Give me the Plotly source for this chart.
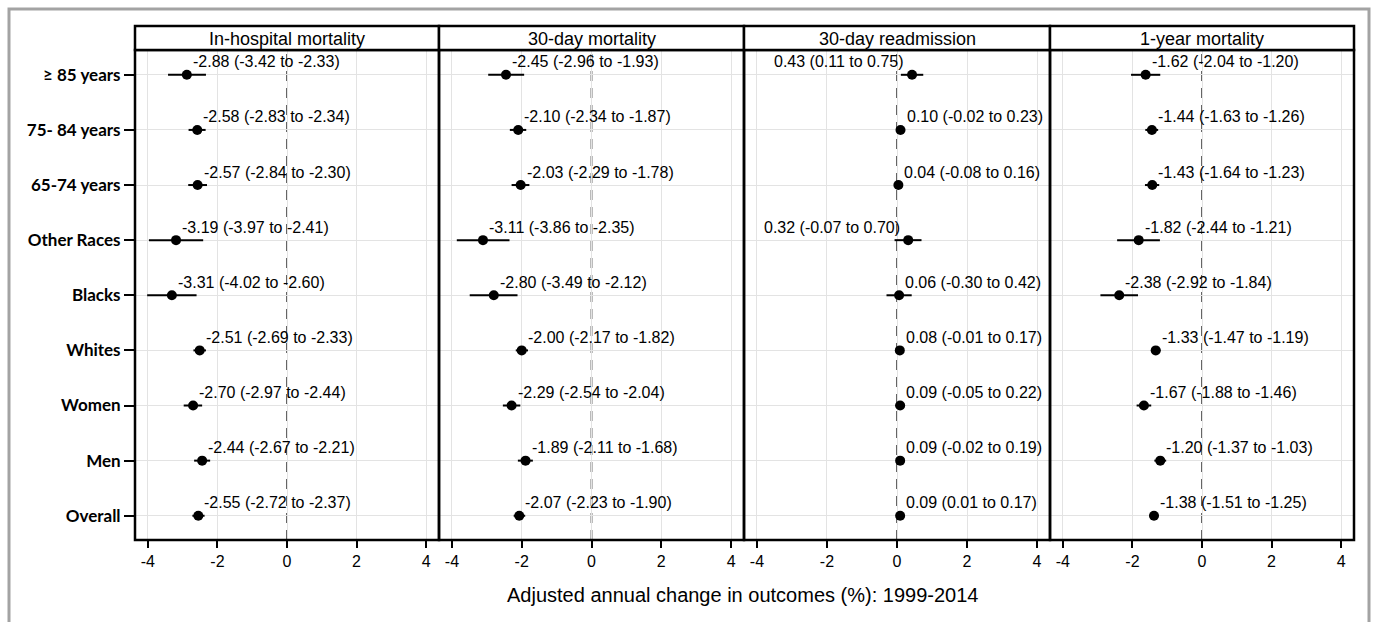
import plotly.graph_objects as go

W, H = 1373, 622

categories = ["Overall", "Men", "Women", "Whites", "Blacks", "Other Races",
              "65-74 years", "75- 84 years", "\u2265 85 years"]

panels = ["In-hospital mortality", "30-day mortality", "30-day readmission", "1-year mortality"]

# values listed bottom (Overall) to top (>= 85 years)
inhosp_est = [-2.55, -2.44, -2.70, -2.51, -3.31, -3.19, -2.57, -2.58, -2.88]
inhosp_lo = [-2.72, -2.67, -2.97, -2.69, -4.02, -3.97, -2.84, -2.83, -3.42]
inhosp_hi = [-2.37, -2.21, -2.44, -2.33, -2.60, -2.41, -2.30, -2.34, -2.33]

d30_est = [-2.07, -1.89, -2.29, -2.00, -2.80, -3.11, -2.03, -2.10, -2.45]
d30_lo = [-2.23, -2.11, -2.54, -2.17, -3.49, -3.86, -2.29, -2.34, -2.96]
d30_hi = [-1.90, -1.68, -2.04, -1.82, -2.12, -2.35, -1.78, -1.87, -1.93]

readm_est = [0.09, 0.09, 0.09, 0.08, 0.06, 0.32, 0.04, 0.10, 0.43]
readm_lo = [0.01, -0.02, -0.05, -0.01, -0.30, -0.07, -0.08, -0.02, 0.11]
readm_hi = [0.17, 0.19, 0.22, 0.17, 0.42, 0.70, 0.16, 0.23, 0.75]

y1_est = [-1.38, -1.20, -1.67, -1.33, -2.38, -1.82, -1.43, -1.44, -1.62]
y1_lo = [-1.51, -1.37, -1.88, -1.47, -2.92, -2.44, -1.64, -1.63, -2.04]
y1_hi = [-1.25, -1.03, -1.46, -1.19, -1.84, -1.21, -1.23, -1.26, -1.20]

# labels placed to the left of the point (panel index, category)
left_labels = {(2, "\u2265 85 years"), (2, "Other Races")}

x_ticks = [-4, -2, 0, 2, 4]
x_title = "Adjusted annual change in outcomes (%): 1999-2014"

series = [(inhosp_est, inhosp_lo, inhosp_hi), (d30_est, d30_lo, d30_hi),
          (readm_est, readm_lo, readm_hi), (y1_est, y1_lo, y1_hi)]

px_edges = [135, 439, 744, 1050, 1354]
plot_top, plot_bot = 50, 540
head_top = 26
FONT = "Liberation Sans, Arial, sans-serif"

def fx(px):
    return px / W

def fy(py):
    return 1 - py / H

fig = go.Figure()
shapes = []
annotations = []
layout = {}

for i, (est, lo, hi) in enumerate(series):
    n = i + 1
    xa = "x" if n == 1 else f"x{n}"
    ya = "y" if n == 1 else f"y{n}"
    xkey = "xaxis" if n == 1 else f"xaxis{n}"
    ykey = "yaxis" if n == 1 else f"yaxis{n}"
    fig.add_trace(go.Scatter(
        x=est, y=categories, xaxis=xa, yaxis=ya, mode="markers",
        marker=dict(color="black", size=10),
        error_x=dict(type="data", symmetric=False,
                     array=[h - e for h, e in zip(hi, est)],
                     arrayminus=[e - l for e, l in zip(est, lo)],
                     color="black", thickness=2, width=0),
        showlegend=False, cliponaxis=False,
    ))
    layout[xkey] = dict(
        domain=[fx(px_edges[i]), fx(px_edges[i + 1])], range=[-4.37, 4.37],
        anchor=ya, tickvals=x_ticks, ticktext=[str(t) for t in x_ticks],
        showgrid=True, gridcolor="#e3e3e3", gridwidth=1, zeroline=False,
        showline=False,
        ticks="outside", ticklen=7, tickwidth=1.5, tickcolor="black",
        tickfont=dict(family=FONT, size=16, color="black"),
        fixedrange=True,
    )
    layout[ykey] = dict(
        domain=[fy(plot_bot), fy(plot_top)], anchor=xa,
        type="category", categoryorder="array", categoryarray=categories,
        range=[-0.44, 8.45], showgrid=True, gridcolor="#e3e3e3", gridwidth=1,
        zeroline=False, showline=False,
        showticklabels=(n == 1), ticks="outside" if n == 1 else "",
        ticklen=10, tickwidth=1.5, tickcolor="black",
        tickfont=dict(family="Lato, Open Sans, sans-serif", size=17, color="black",
                      weight="bold"),
        fixedrange=True,
    )
    # dashed zero reference line
    shapes.append(dict(type="line", xref=xa, yref="paper", x0=0, x1=0,
                       y0=fy(plot_bot), y1=fy(plot_top),
                       line=dict(color="#555555", width=1.8, dash="10px,7px"),
                       layer="below"))
    # panel border
    shapes.append(dict(type="rect", xref="paper", yref="paper",
                       x0=fx(px_edges[i]), x1=fx(px_edges[i + 1]),
                       y0=fy(plot_bot), y1=fy(plot_top),
                       line=dict(color="black", width=2.5)))
    # header box
    shapes.append(dict(type="rect", xref="paper", yref="paper",
                       x0=fx(px_edges[i]), x1=fx(px_edges[i + 1]),
                       y0=fy(plot_top), y1=fy(head_top),
                       line=dict(color="black", width=2.5), fillcolor="white"))
    annotations.append(dict(text=panels[i], xref="paper", yref="paper",
                            x=fx((px_edges[i] + px_edges[i + 1]) / 2),
                            y=fy((plot_top + head_top) / 2 + 1),
                            showarrow=False, xanchor="center", yanchor="middle",
                            font=dict(family=FONT, size=18, color="black")))
    for c, e, l, h in zip(categories, est, lo, hi):
        txt = f"{e:.2f} ({l:.2f} to {h:.2f})"
        left = (i, c) in left_labels
        annotations.append(dict(
            text=txt, xref=xa, yref=ya, x=e, y=c, showarrow=False,
            xanchor="right" if left else "left", yanchor="middle",
            xshift=-6 if left else 4, yshift=13,
            font=dict(family=FONT, size=16, color="black")))

annotations.append(dict(text=x_title, xref="paper", yref="paper",
                        x=fx(743), y=fy(595), showarrow=False,
                        xanchor="center", yanchor="middle",
                        font=dict(family=FONT, size=20, color="black")))

# outer grey frame
shapes.append(dict(type="rect", xref="paper", yref="paper",
                   x0=fx(9), x1=fx(1369), y0=fy(660), y1=fy(9),
                   line=dict(color="#a3a3a3", width=3), layer="below"))

fig.update_layout(
    width=W, height=H, margin=dict(l=0, r=0, t=0, b=0),
    paper_bgcolor="white", plot_bgcolor="white",
    shapes=shapes, annotations=annotations, **layout,
)

fig.write_html("out.html")
